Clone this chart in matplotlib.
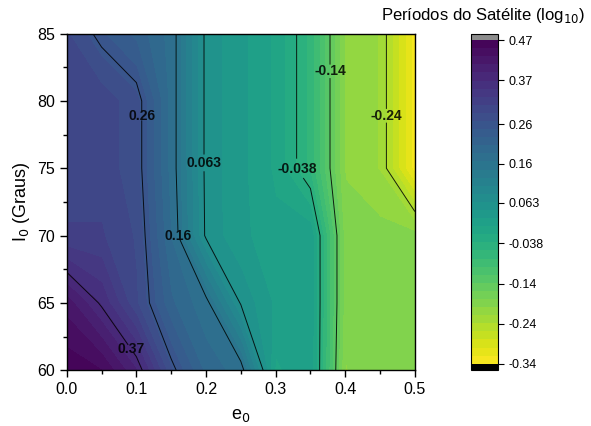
import numpy as np
import matplotlib
matplotlib.use("Agg")
import matplotlib.pyplot as plt

plt.rcParams['font.family'] = ['Liberation Sans', 'DejaVu Sans']

# grid of the satellite periods (log10)
e0 = [0.0, 0.05, 0.1, 0.15, 0.2, 0.25, 0.3, 0.35, 0.4, 0.45, 0.5]
I0 = [60, 65, 70, 75, 80, 85]

z_i60 = [0.465, 0.45, 0.39, 0.27, 0.20, 0.175, 0.00, 0.02, -0.20, -0.18, -0.19]
z_i65 = [0.42, 0.365, 0.29, 0.21, 0.17, 0.06, 0.02, 0.02, -0.19, -0.18, -0.19]
z_i70 = [0.31, 0.31, 0.285, 0.185, 0.058, 0.03, 0.01, 0.02, -0.19, -0.19, -0.19]
z_i75 = [0.30, 0.30, 0.275, 0.177, 0.056, 0.03, 0.00, -0.063, -0.20, -0.22, -0.33]
z_i80 = [0.30, 0.30, 0.275, 0.177, 0.056, 0.03, 0.00, -0.063, -0.20, -0.22, -0.33]
z_i85 = [0.29, 0.25, 0.22, 0.177, 0.056, 0.03, 0.00, -0.063, -0.20, -0.22, -0.33]

levels = [-0.34, -0.24, -0.14, -0.038, 0.063, 0.16, 0.26, 0.37, 0.47]
level_labels = ['-0.34', '-0.24', '-0.14', '-0.038', '0.063', '0.16', '0.26', '0.37', '0.47']

# where the contour labels sit (e0, I0)
label_pos = [(0.105, 78.9), (0.196, 75.4), (0.158, 70.0), (0.10, 61.9),
             (0.333, 75.0), (0.364, 82.2), (0.462, 78.9)]

X, Y = np.meshgrid(e0, I0)
Z = np.array([z_i60, z_i65, z_i70, z_i75, z_i80, z_i85])

fig = plt.figure(figsize=(5.91, 4.26), dpi=100)
ax = fig.add_axes([0.113, 0.131, 0.589, 0.790])
cax = fig.add_axes([0.797, 0.131, 0.046, 0.790])

cmap = plt.get_cmap('viridis_r').copy()
cmap.set_over('#8c8c8c')
cmap.set_under('black')

fill_levels = np.linspace(levels[0], levels[-1], 41)
cf = ax.contourf(X, Y, Z, levels=fill_levels, cmap=cmap, extend='both')
cs = ax.contour(X, Y, Z, levels=levels, colors='black', linewidths=0.7,
                linestyles='solid', alpha=0.85)
fmt = dict(zip(levels, level_labels))
lbls = ax.clabel(cs, fmt=fmt, manual=label_pos, inline=True, inline_spacing=-9,
                 fontsize=10)
for t in lbls:
    t.set_fontweight('bold')
    t.set_rotation(0)

ax.set_xlim(0, 0.5)
ax.set_ylim(60, 85)
ax.set_xticks([0.0, 0.1, 0.2, 0.3, 0.4, 0.5])
ax.set_xticklabels(['0.0', '0.1', '0.2', '0.3', '0.4', '0.5'])
ax.set_xticks(np.arange(0.05, 0.5, 0.1), minor=True)
ax.set_yticks([60, 65, 70, 75, 80, 85])
ax.set_yticks(np.arange(62.5, 85, 5), minor=True)
ax.tick_params(which='major', direction='out', length=5, width=1, labelsize=11.5)
ax.tick_params(which='minor', direction='out', length=3, width=1)
for s in ax.spines.values():
    s.set_linewidth(1.0)
ax.set_xlabel('e$_0$', fontsize=13, labelpad=7)
ax.set_ylabel('I$_0$ (Graus)', fontsize=13, labelpad=4)

cb = fig.colorbar(cf, cax=cax, extend='both', extendrect=True, extendfrac=0.02,
                  ticks=levels)
cb.ax.set_yticklabels(level_labels)
cb.ax.tick_params(labelsize=9, length=4, width=0.8)
cb.outline.set_linewidth(0.8)

fig.text(0.818, 0.963, 'Períodos do Satélite (log$_{10}$)', ha='center', va='center',
         fontsize=12)

fig.savefig('out.png', dpi=100)
